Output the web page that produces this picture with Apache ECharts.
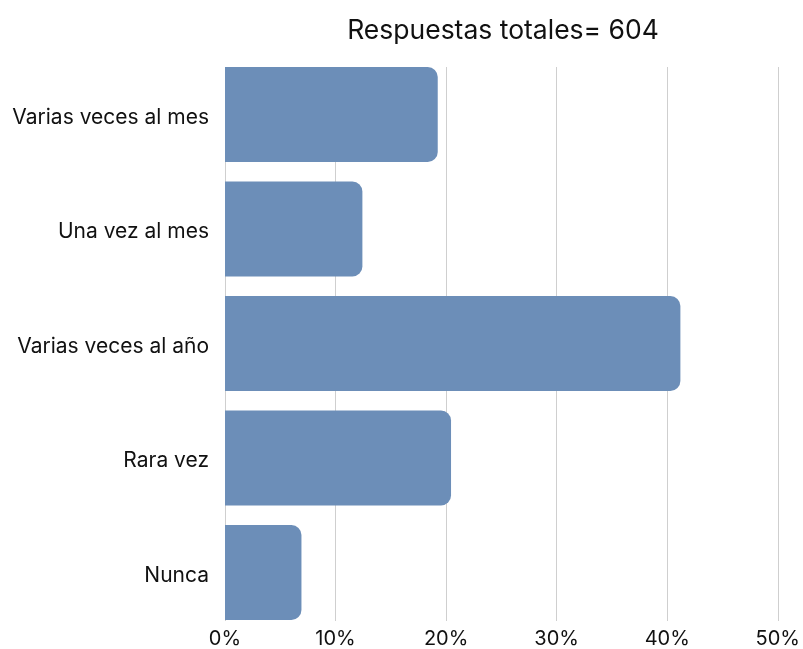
<!DOCTYPE html>
<html>
<head>
<meta charset="utf-8">
<script src="https://cdn.jsdelivr.net/npm/echarts@6/dist/echarts.min.js"></script>
<style>
  html, body { margin: 0; padding: 0; background: #fff; }
  #chart { width: 803px; height: 649px; }
</style>
</head>
<body>
<div id="chart"></div>
<script>
const categories = [
  "Varias veces al mes",
  "Una vez al mes",
  "Varias veces al año",
  "Rara vez",
  "Nunca",
];
const percentages = [19.2, 12.4, 41.1, 20.4, 6.9];
const xTicks = [0, 10, 20, 30, 40, 50];
const titleText = "Respuestas totales= 604";

const font = "Inter, 'Noto Sans', sans-serif";
const barColor = "#6c8eb8";

const chart = echarts.init(document.getElementById("chart"));

chart.setOption({
  animation: false,
  title: {
    text: titleText,
    left: 498,
    textAlign: "center",
    top: 13,
    textStyle: { fontFamily: font, fontSize: 26.5, fontWeight: "normal", color: "#111" },
  },
  grid: [
    // grid for the gridlines and % labels
    { left: 225, right: 24, top: 67, height: 554 },
    // grid for the bars (bars flush with the gridline ends)
    { left: 225, right: 24, top: 57.25, height: 572.5 },
  ],
  xAxis: [
    {
      gridIndex: 0,
      type: "value",
      min: xTicks[0],
      max: xTicks[xTicks.length - 1],
      interval: 10,
      axisLine: { show: false },
      axisTick: { show: false },
      splitLine: { lineStyle: { color: "#cfcfcf", width: 1 } },
      axisLabel: {
        formatter: "{value}%",
        fontFamily: font,
        fontSize: 20,
        color: "#111",
        margin: 8,
      },
    },
    {
      gridIndex: 1,
      type: "value",
      min: xTicks[0],
      max: xTicks[xTicks.length - 1],
      show: false,
    },
  ],
  yAxis: [
    {
      gridIndex: 0,
      type: "category",
      data: categories,
      show: false,
    },
    {
      gridIndex: 1,
      type: "category",
      data: categories,
      inverse: true,
      axisLine: { show: false },
      axisTick: { show: false },
      axisLabel: {
        margin: 16,
        formatter: (v) => "{c|" + v + "}",
        rich: {
          c: {
            fontFamily: font,
            fontSize: 21,
            color: "#111",
            padding: [6, 0, 0, 0],
          },
        },
      },
    },
  ],
  series: [
    {
      type: "bar",
      xAxisIndex: 1,
      yAxisIndex: 1,
      data: percentages,
      barWidth: 95,
      itemStyle: { color: barColor, borderRadius: [0, 10, 10, 0] },
    },
  ],
});
</script>
</body>
</html>
